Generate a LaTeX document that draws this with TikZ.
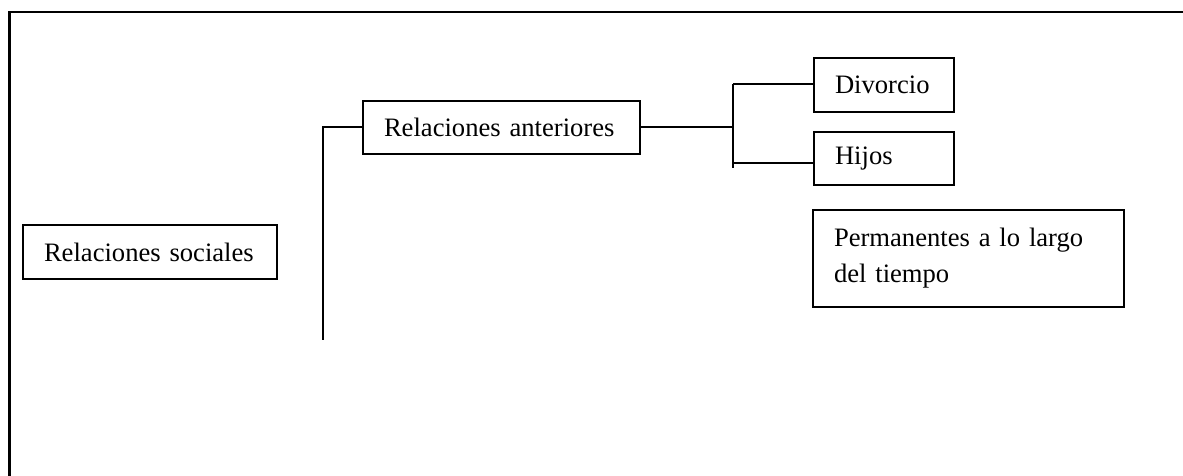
\documentclass[tikz,border=0pt]{standalone}
\usepackage{fontspec}
\setmainfont{Liberation Serif}
\begin{document}
\begin{tikzpicture}[x=1pt,y=1pt,
  box/.style={draw, line width=2pt, rectangle, anchor=north west,
    inner xsep=21pt, inner ysep=0pt, align=left,
    font=\fontsize{26.6}{36}\selectfont},
  conn/.style={line width=2pt}]
\useasboundingbox (0,0) rectangle (1183,-476);
% outer frame (only top and left edges visible)
\coordinate (fBL) at (9.5,-476);
\coordinate (fTL) at (9.5,-12);
\coordinate (fTR) at (1185,-12);
\draw[line width=2.2pt] (fBL) -- (fTL) -- (fTR);
% boxes
\node[box, text width=212pt, minimum height=54pt] (soc) at (22,-224) {Relaciones sociales};
\node[box, text width=235pt, minimum height=53pt] (ant) at (362,-100) {Relaciones anteriores};
\node[box, text width=98pt, minimum height=54pt] (div) at (813,-57) {Divorcio};
\node[box, text width=98pt, minimum height=53pt] (hij) at (813,-131) {Hijos};
\node[box, text width=269pt, minimum height=97pt] (per) at (812,-209) {Permanentes a lo largo\\del tiempo};
% connectors
\coordinate (spineA) at (323,-340);
\draw[conn] (ant.west) -| (spineA);
\coordinate (brTop) at (733,-84);
\coordinate (brBot) at (733,-168);
\coordinate (hijL) at (733,-163);
\draw[conn] (ant.east) -- (ant.east -| brTop);
\draw[conn] (brTop) -- (brBot);
\draw[conn] (brTop) -- (brTop -| div.west);
\draw[conn] (hijL) -- (hijL -| hij.west);
\end{tikzpicture}
\end{document}
